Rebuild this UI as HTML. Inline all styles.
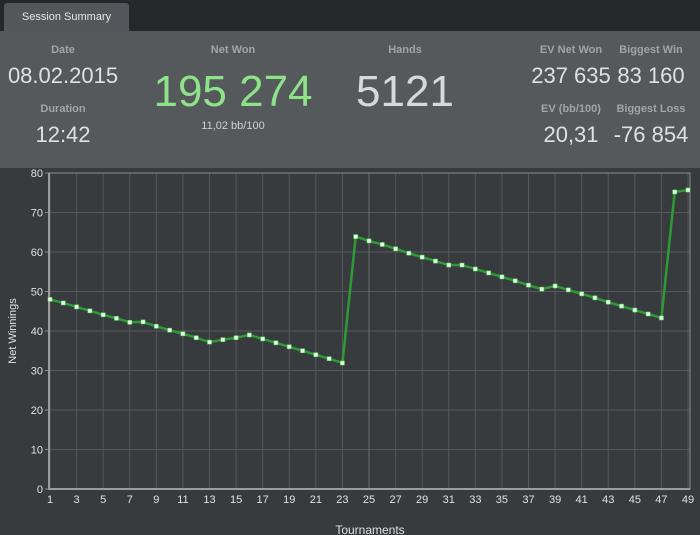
<!DOCTYPE html>
<html><head><meta charset="utf-8"><style>
body{margin:0;width:700px;height:535px;background:#383b3e;font-family:"Liberation Sans",sans-serif;overflow:hidden;position:relative}
.top{position:absolute;left:0;top:0;width:700px;height:31px;background:#25282b}
.tab{position:absolute;left:4px;top:3px;width:125px;height:28px;background:#53575b;border-radius:3px 3px 0 0;color:#e6e6e6;font-size:11px;line-height:28px;text-align:center}
.panel{position:absolute;left:0;top:31px;width:700px;height:137px;background:#56595c}
.l{position:absolute;color:#a2a4a6;font-size:11px;font-weight:bold;text-align:center;transform:translateX(-50%);white-space:nowrap}
.v{position:absolute;color:#e0e0e0;text-align:center;transform:translateX(-50%);white-space:nowrap}
</style></head><body>
<div class="top"></div>
<div class="tab">Session Summary</div>
<div class="panel"></div>
<div class="l" style="left:63px;top:44px">Date</div>
<div class="v" style="left:63px;top:63px;font-size:22px">08.02.2015</div>
<div class="l" style="left:63px;top:103px">Duration</div>
<div class="v" style="left:63px;top:122px;font-size:22px">12:42</div>
<div class="l" style="left:233px;top:44px">Net Won</div>
<div class="v" style="left:233px;top:67px;font-size:44px;color:#8ee28a">195 274</div>
<div class="v" style="left:233px;top:120px;font-size:11px;color:#d0d0d0">11,02 bb/100</div>
<div class="l" style="left:405px;top:44px">Hands</div>
<div class="v" style="left:405px;top:67px;font-size:44px;color:#d8d8d8">5121</div>
<div class="l" style="left:571px;top:44px">EV Net Won</div>
<div class="v" style="left:571px;top:63px;font-size:22px">237 635</div>
<div class="l" style="left:651px;top:44px">Biggest Win</div>
<div class="v" style="left:651px;top:63px;font-size:22px">83 160</div>
<div class="l" style="left:571px;top:103px">EV (bb/100)</div>
<div class="v" style="left:571px;top:122px;font-size:22px">20,31</div>
<div class="l" style="left:651px;top:103px">Biggest Loss</div>
<div class="v" style="left:651px;top:122px;font-size:22px">-76 854</div>
<svg id="chart" width="700" height="535" style="position:absolute;left:0;top:0"></svg>
<script>
const values=[48,47.1,46.1,45.1,44.1,43.2,42.2,42.3,41.2,40.2,39.3,38.3,37.2,37.8,38.3,39.0,38.0,37.0,36.0,35.0,34.0,33.0,31.9,63.9,62.8,61.9,60.8,59.7,58.7,57.7,56.7,56.7,55.7,54.7,53.7,52.7,51.6,50.6,51.4,50.4,49.4,48.4,47.3,46.3,45.3,44.3,43.3,75.2,75.7];
const yTicks=[0,10,20,30,40,50,60,70,80];
const xTicks=[1,3,5,7,9,11,13,15,17,19,21,23,25,27,29,31,33,35,37,39,41,43,45,47,49];
const NS="http://www.w3.org/2000/svg";
const svg=document.getElementById('chart');
const X0=50,X1=688,Y0=489,Y1=173;
const xs=i=>X0+(i-1)*(X1-X0)/48;
const ys=v=>Y0-v*(Y0-Y1)/80;
function mk(t,a){const e=document.createElementNS(NS,t);for(const k in a)e.setAttribute(k,a[k]);svg.appendChild(e);return e;}
for(const t of yTicks){
 const g=mk('line',{x1:49,x2:690,y1:ys(t),y2:ys(t),stroke:'#55585b','stroke-width':1});
 
 
 const tk=mk('line',{x1:45,x2:49,y1:ys(t),y2:ys(t),stroke:'#888','stroke-width':1});
 
 
 const tx=mk('text',{x:43,y:ys(t)+4,'text-anchor':'end',fill:'#e0e0e0','font-size':11,'font-family':'Liberation Sans, sans-serif'});
 tx.textContent=t;
 
 
}
for(const t of xTicks){
 const g=mk('line',{x1:xs(t),x2:xs(t),y1:Y1,y2:Y0,stroke:t==25?'#6a6d70':'#55585b','stroke-width':1});
 
 
 const tx=mk('text',{x:xs(t),y:503,'text-anchor':'middle',fill:'#e0e0e0','font-size':11,'font-family':'Liberation Sans, sans-serif'});
 tx.textContent=t;
 
 
}
const fr=mk('rect',{x:49,y:Y1,width:641,height:Y0-Y1,fill:'none',stroke:'#8a8d90','stroke-width':1});


const ax=mk('line',{x1:49,x2:49,y1:Y1,y2:Y0+1,stroke:'#9a9c9e','stroke-width':2});


const bx=mk('line',{x1:49,x2:690,y1:Y0,y2:Y0,stroke:'#9a9c9e','stroke-width':2});


const pts=values.map((v,i)=>xs(i+1)+','+ys(v)).join(' ');
const pl=mk('polyline',{points:pts,fill:'none',stroke:'#2e9a35','stroke-width':2.5,'stroke-linejoin':'round'});


values.forEach((v,i)=>{
 const c=mk('rect',{x:xs(i+1)-2,y:ys(v)-2,width:4,height:4,fill:'#e8ffe8',stroke:'#6fd56f','stroke-width':0.6});
 
 
});
const yt=mk('text',{x:16,y:331,'text-anchor':'middle',fill:'#e0e0e0','font-size':11,transform:'rotate(-90 16 331)','font-family':'Liberation Sans, sans-serif'});
yt.textContent='Net Winnings';


const xt=mk('text',{x:370,y:534,'text-anchor':'middle',fill:'#e0e0e0','font-size':12,'font-family':'Liberation Sans, sans-serif'});
xt.textContent='Tournaments';


</script>
</body></html>
